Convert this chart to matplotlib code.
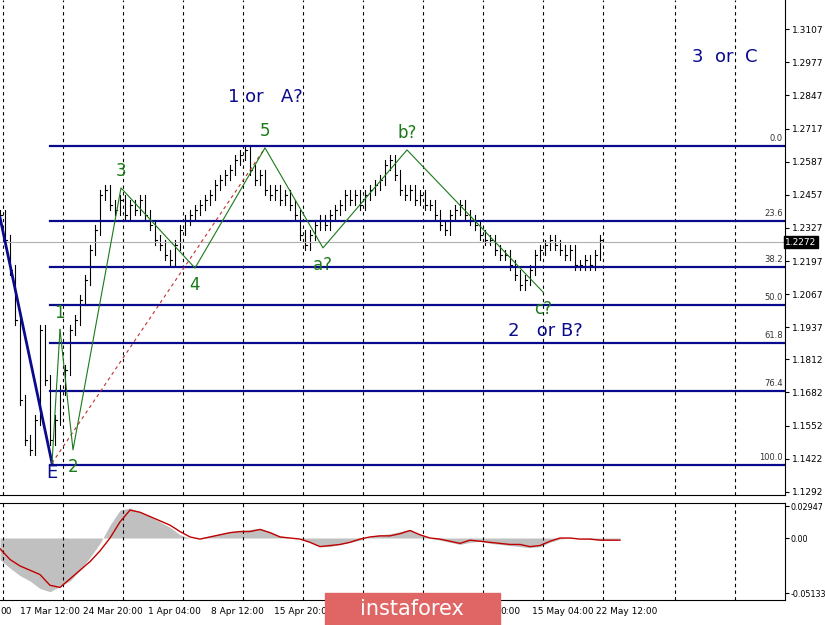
import numpy as np
import matplotlib
matplotlib.use("Agg")
import matplotlib.pyplot as plt
from matplotlib.patches import Rectangle

# closes, one bar every 5 units
closes = [1.2378, 1.2280, 1.2163, 1.1967, 1.1653, 1.1496, 1.1457, 1.1575, 1.1927, 1.1731,
          1.1496, 1.1575, 1.1692, 1.1771, 1.1927, 1.1967, 1.2045, 1.2123, 1.2241, 1.2319,
          1.2457, 1.2476, 1.2417, 1.2398, 1.2437, 1.2378, 1.2417, 1.2398, 1.2437, 1.2378,
          1.2339, 1.2280, 1.2261, 1.2221, 1.2202, 1.2261, 1.2319, 1.2359, 1.2378, 1.2398,
          1.2417, 1.2437, 1.2457, 1.2496, 1.2515, 1.2535, 1.2555, 1.2594, 1.2613, 1.2633,
          1.2555, 1.2515, 1.2535, 1.2476, 1.2457, 1.2476, 1.2437, 1.2457, 1.2417, 1.2378,
          1.2300, 1.2261, 1.2300, 1.2339, 1.2359, 1.2339, 1.2378, 1.2398, 1.2417, 1.2457,
          1.2437, 1.2457, 1.2417, 1.2457, 1.2476, 1.2496, 1.2515, 1.2574, 1.2594, 1.2535,
          1.2476, 1.2457, 1.2476, 1.2437, 1.2457, 1.2417, 1.2417, 1.2378, 1.2339, 1.2319,
          1.2378, 1.2398, 1.2417, 1.2378, 1.2359, 1.2339, 1.2300, 1.2280, 1.2280, 1.2241,
          1.2221, 1.2221, 1.2182, 1.2143, 1.2104, 1.2123, 1.2163, 1.2221, 1.2241, 1.2261,
          1.2280, 1.2261, 1.2241, 1.2221, 1.2241, 1.2182, 1.2182, 1.2202, 1.2182, 1.2221,
          1.2280]

fib_levels = [1.2648, 1.2354, 1.2174, 1.2025, 1.1876, 1.1688, 1.1398]
fib_names = ["0.0", "23.6", "38.2", "50.0", "61.8", "76.4", "100.0"]

wave_x = [73, 121, 195, 265, 323, 407, 543]
wave_y = [1.1457, 1.2484, 1.2170, 1.2641, 1.2249, 1.2633, 1.2076]
wave_names = ["2", "3", "4", "5", "a?", "b?", "c?"]

price_ticks = [1.3107, 1.2977, 1.2847, 1.2717, 1.2587, 1.2457, 1.2327, 1.2197,
               1.2067, 1.1937, 1.1812, 1.1682, 1.1552, 1.1422, 1.1292]
last_price = 1.2272

hist = [-0.020, -0.028, -0.035, -0.040, -0.047, -0.050, -0.045, -0.040, -0.030, -0.018,
        -0.005, 0.012, 0.026, 0.028, 0.024, 0.020, 0.015, 0.010, 0.003, 0.000,
        0.000, 0.002, 0.004, 0.006, 0.007, 0.008, 0.009, 0.006, 0.002, 0.000,
        0.000, -0.004, -0.008, -0.008, -0.006, -0.004, -0.002, 0.001, 0.003, 0.004,
        0.006, 0.008, 0.003, 0.000, -0.002, -0.004, -0.006, -0.004, -0.003, -0.005,
        -0.006, -0.007, -0.008, -0.009, -0.008, -0.004, -0.001, 0.000, 0.000, -0.001,
        -0.002, -0.002, -0.001]
signal = [-0.010, -0.020, -0.026, -0.030, -0.034, -0.044, -0.046, -0.038, -0.030, -0.022,
          -0.012, 0.000, 0.015, 0.026, 0.024, 0.020, 0.016, 0.012, 0.006, 0.001,
          -0.001, 0.001, 0.003, 0.005, 0.006, 0.006, 0.008, 0.005, 0.001, 0.000,
          -0.001, -0.004, -0.008, -0.007, -0.006, -0.004, -0.001, 0.001, 0.002, 0.002,
          0.004, 0.007, 0.003, 0.000, -0.001, -0.003, -0.005, -0.002, -0.003, -0.004,
          -0.005, -0.006, -0.006, -0.008, -0.007, -0.003, 0.000, 0.000, -0.001, -0.001,
          -0.002, -0.002, -0.002]

date_labels = ["00", "17 Mar 12:00", "24 Mar 20:00", "1 Apr 04:00", "8 Apr 12:00",
               "15 Apr 20:0", "0:00", "15 May 04:00", "22 May 12:00"]
date_pos = [0, 20, 83, 148, 211, 274, 500, 532, 596]
grid_x = [3, 63, 123, 183, 243, 303, 363, 423, 483, 543, 603, 675, 735]

navy = "#0a0a8c"
green = "#1a7a1a"

fig = plt.figure(figsize=(8.25, 6.25), dpi=100)
W, H = 825, 625
ax = fig.add_axes([0, 1 - 495 / H, 785 / W, 495 / H])
ax2 = fig.add_axes([0, 1 - 600 / H, 785 / W, 97 / H])

ax.set_xlim(0, 785)
ax.set_ylim(1.1280, 1.3221)
for g in grid_x:
    ax.axvline(g, color="black", ls=(0, (3, 3)), lw=0.8)
    ax2.axvline(g, color="black", ls=(0, (3, 3)), lw=0.8)

bx = np.arange(len(closes)) * 5
prev = closes[0]
for x, c in zip(bx, closes):
    lo = min(prev, c) - 0.002
    hi = max(prev, c) + 0.002
    ax.plot([x, x], [lo, hi], color="black", lw=0.8)
    ax.plot([x, x + 1.5], [c, c], color="black", lw=0.8)
    prev = c

for lvl, nm in zip(fib_levels, fib_names):
    ax.plot([50, 785], [lvl, lvl], color=navy, lw=1.6)
    ax.text(783, lvl + 0.0012, nm, fontsize=6, ha="right", va="bottom", color="#333333")
ax.axhline(last_price, color="#b0b0b0", lw=0.8)

ax.plot([0, 52], [1.2368, 1.1405], color=navy, lw=2)
ax.plot([52, 265], [1.1405, 1.2641], color="#c03030", ls=(0, (3, 3)), lw=0.8)
ax.plot([52, 60] , [1.1405, 1.1929], color=green, lw=0.8)
ax.plot([60] + wave_x, [1.1929] + wave_y, color=green, lw=0.8)

ax.text(52, 1.1400, "E", color=navy, fontsize=13, ha="center", va="top")
ax.text(59, 1.1960, "1", color=green, fontsize=12, ha="center", va="bottom")
offs = [-1, 1, -1, 1, -1, 1, -1]
for x, y, nm, o in zip(wave_x, wave_y, wave_names, offs):
    if o > 0:
        ax.text(x, y + 0.003, nm, color=green, fontsize=12, ha="center", va="bottom")
    else:
        ax.text(x, y - 0.003, nm, color=green, fontsize=12, ha="center", va="top")
ax.text(265, 1.2840, "1 or   A?", color=navy, fontsize=13, ha="center", va="center")
ax.text(725, 1.2998, "3  or  C", color=navy, fontsize=13, ha="center", va="center")
ax.text(545, 1.1925, "2   or B?", color=navy, fontsize=13, ha="center", va="center")

ax.yaxis.tick_right()
ax.set_yticks(price_ticks)
ax.set_yticklabels([f"{p:.4f}" for p in price_ticks], fontsize=6.5)
ax.tick_params(axis="y", length=3, pad=2)
ax.set_xticks([])
for s in ["left", "top"]:
    ax.spines[s].set_visible(False)
ax.text(1.0, (last_price - 1.1280) / (1.3221 - 1.1280), f"{last_price:.4f}", transform=ax.transAxes,
        fontsize=6.5, color="white", va="center", ha="left",
        bbox=dict(boxstyle="square,pad=0.15", fc="black", ec="black"), clip_on=False)

ix = np.arange(len(hist)) * 10
ax2.fill_between(ix, hist, 0, color="#c0c0c0", lw=0)
ax2.plot(ix, signal, color="#c00000", lw=1)
ax2.set_xlim(0, 785)
ax2.set_ylim(-0.0577, 0.0326)
ax2.yaxis.tick_right()
ax2.set_yticks([0.02947, 0.0, -0.05133])
ax2.set_yticklabels(["0.02947", "0.00", "-0.05133"], fontsize=5.8)
ax2.tick_params(axis="y", length=3, pad=1)
ax2.set_xticks([])
for s in ["left"]:
    ax2.spines[s].set_visible(False)

for lab, p in zip(date_labels, date_pos):
    fig.text(p / W, 1 - 611 / H, lab, fontsize=6.5, ha="left", va="center")

fig.patches.append(Rectangle((325 / W, 0), 175 / W, 32 / H, transform=fig.transFigure,
                             color="#e06666", zorder=5))
fig.text(412 / W, 1 - 609 / H, "instaforex", fontsize=15, color="white", ha="center",
         va="center", zorder=6)

fig.savefig("out.png", dpi=100)
